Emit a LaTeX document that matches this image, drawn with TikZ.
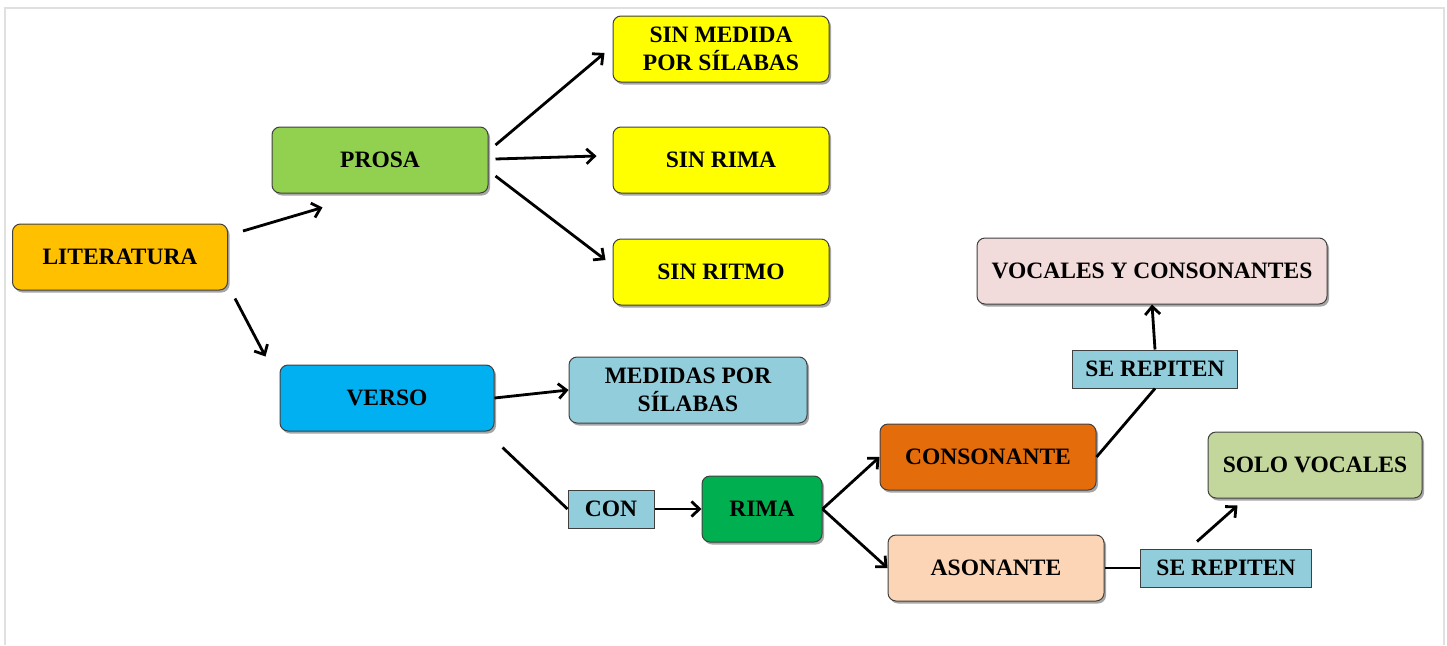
\documentclass[tikz,border=0pt]{standalone}
\usepackage{fontspec}
\setmainfont{Liberation Serif}
\usetikzlibrary{arrows.meta, shadows}
\definecolor{cLit}{HTML}{FFC000}
\definecolor{cProsa}{HTML}{92D050}
\definecolor{cVerso}{HTML}{00B0F0}
\definecolor{cSin}{HTML}{FFFF00}
\definecolor{cCeleste}{HTML}{92CDDC}
\definecolor{cRima}{HTML}{00B050}
\definecolor{cCons}{HTML}{E46C0A}
\definecolor{cAson}{HTML}{FBD5B5}
\definecolor{cVoc}{HTML}{F2DCDB}
\definecolor{cSolo}{HTML}{C3D69B}

\tikzset{
  caja/.style={draw=black!75, line width=1pt, rounded corners=8pt,
    minimum width=216pt, minimum height=66pt, inner sep=2pt, align=center,
    font=\fontsize{23.5}{28}\selectfont\bfseries,
    drop shadow={shadow xshift=2pt, shadow yshift=-2.5pt, opacity=.35, fill=black}},
  etiq/.style={draw=black!75, line width=1pt, fill=cCeleste,
    minimum height=38pt, inner sep=4pt,
    font=\fontsize{23.5}{28}\selectfont\bfseries},
  flecha/.style={line width=2.8pt, -{Straight Barb[length=8pt,width=15pt,line width=2.8pt]}},
  linea/.style={line width=2.8pt}
}

\begin{document}
\begin{tikzpicture}[x=1pt, y=-1pt]
\useasboundingbox (0,0) rectangle (1447,645);
\draw[black!12, line width=1.2pt] (5,645) -- (5,8) -- (1444,8) -- (1444,645);

% nodos
\node[caja, fill=cLit, minimum width=215pt] (lit) at (120,257) {LITERATURA};
\node[caja, fill=cProsa] (prosa) at (380,160) {PROSA};
\node[caja, fill=cVerso, minimum width=214pt] (verso) at (387,398) {VERSO};
\node[caja, fill=cSin] (sinmed) at (721,49) {SIN MEDIDA\\POR SÍLABAS};
\node[caja, fill=cSin] (sinrima) at (721,160) {SIN RIMA};
\node[caja, fill=cSin] (sinritmo) at (721,272) {SIN RITMO};
\node[caja, fill=cCeleste, minimum width=238pt] (medidas) at (688,390) {MEDIDAS POR\\SÍLABAS};
\node[etiq, minimum width=86pt] (con) at (611,509) {CON};
\node[caja, fill=cRima, minimum width=120pt] (rima) at (762,509) {RIMA};
\node[caja, fill=cCons] (consonante) at (988,457) {CONSONANTE};
\node[caja, fill=cAson] (asonante) at (996,568) {ASONANTE};
\node[caja, fill=cVoc, minimum width=350pt] (vocales) at (1152,271) {VOCALES Y CONSONANTES};
\node[etiq, minimum width=165pt] (serep1) at (1155,369) {SE REPITEN};
\node[caja, fill=cSolo, minimum width=214pt] (solo) at (1315,465) {SOLO VOCALES};
\node[etiq, minimum width=171pt] (serep2) at (1226,568) {SE REPITEN};

% conectores
\draw[flecha] ([shift={(15,-26)}]lit.east) -- ([shift={(51,14)}]prosa.south west);
\draw[flecha] ([shift={(7,8)}]lit.south east) -- ([shift={(-14,-8)}]verso.north west);
\draw[flecha] ([shift={(7,-15)}]prosa.east) -- ([shift={(-8,4)}]sinmed.west);
\draw[flecha] ([shift={(7,-1)}]prosa.east) -- ([shift={(-16,-4)}]sinrima.west);
\draw[flecha] ([shift={(7,16)}]prosa.east) -- ([shift={(-7,-12)}]sinritmo.west);
\draw[flecha] (verso.east) -- (medidas.west);
\draw[linea] ([shift={(8,16)}]verso.south east) -- (con.west);
\draw[flecha] (con.east) -- (rima.west);
\draw[flecha] (rima.east) -- (consonante.west);
\draw[flecha] (rima.east) -- (asonante.west);
\draw[linea] (consonante.east) -- (serep1.south);
\draw[flecha] (serep1.north) -- (vocales.south);
\draw[linea] (asonante.east) -- (serep2.west);
\draw[flecha] ([shift={(-29,-7)}]serep2.north) -- ([shift={(30,7)}]solo.south west);
\end{tikzpicture}
\end{document}
